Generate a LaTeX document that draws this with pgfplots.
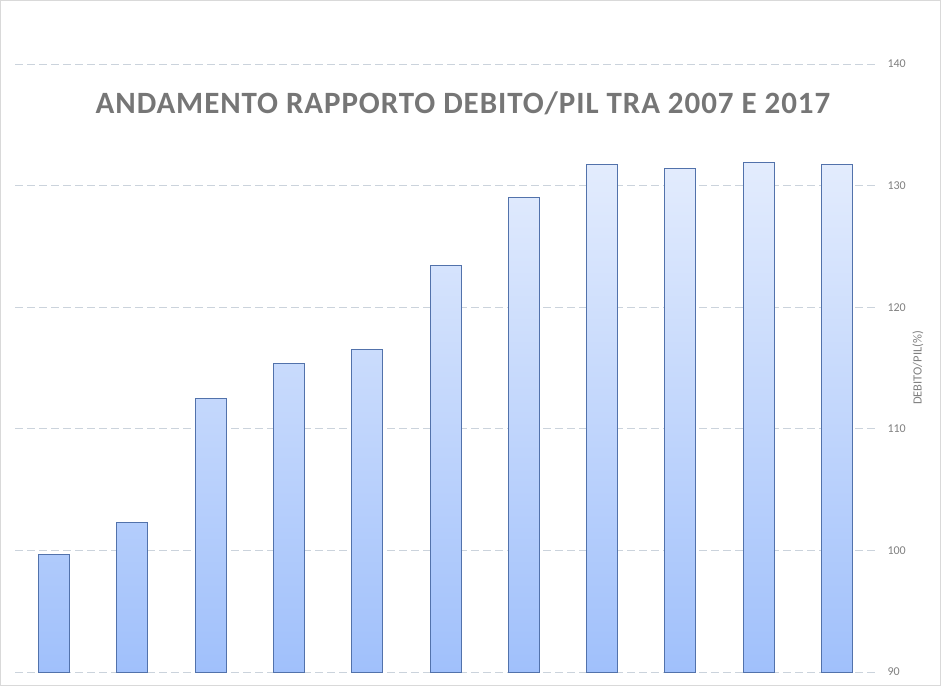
\documentclass[border=0pt]{standalone}
\usepackage{pgfplots}
\usepackage{pgfplotstable}
\pgfplotsset{compat=1.18}
\usepackage{fontspec}
\setmainfont{Carlito}

\definecolor{titlegray}{HTML}{767676}
\definecolor{tickgray}{HTML}{7F7F7F}
\definecolor{gridc}{HTML}{CBD3DC}
\definecolor{bartop}{HTML}{E3ECFD}
\definecolor{barbot}{HTML}{A0C0FB}
\definecolor{baredge}{HTML}{5272AB}
\definecolor{framec}{HTML}{D9D9D9}

% debito/PIL in percent, 2007-2017
\pgfplotstableread{
idx anno rapporto
0  2007 99.7
1  2008 102.3
2  2009 112.5
3  2010 115.4
4  2011 116.5
5  2012 123.4
6  2013 129.0
7  2014 131.7
8  2015 131.4
9  2016 131.9
10 2017 131.7
}\debitodata

\begin{document}
\begin{tikzpicture}[x=1pt,y=1pt]
\useasboundingbox (0,0) rectangle (941,686);
\draw[framec] (0.5,0.5) rectangle (940.5,685.5);

\begin{axis}[
    at={(15pt,14pt)}, anchor=south west,
    scale only axis,
    width=861pt, height=608pt,
    xmin=-0.5, xmax=10.5,
    ymin=0, ymax=50,
    axis line style={draw=none},
    xtick=\empty,
    ytick={0,10,20,30,40,50},
    yticklabels={90,100,110,120,130,140},
    yticklabel pos=right,
    major tick length=0pt,
    yticklabel style={font=\fontsize{12}{12}\selectfont, color=tickgray, xshift=8pt},
    /pgf/number format/assume math mode=true,
    ymajorgrids,
    major grid style={gridc, line width=0.8pt, dash pattern=on 8pt off 4pt},
    ylabel={DEBITO/PIL(\%)},
    every axis y label/.style={at={(rel axis cs:1,0.5)}, rotate=90, anchor=center,
        yshift=-42pt, font=\fontsize{12.5}{12.5}\selectfont, color=tickgray},
]
\addplot[ybar, bar width=31pt, draw=baredge, line width=0.9pt,
    top color=bartop, bottom color=barbot]
    table[x=idx, y expr=\thisrow{rapporto}-90] {\debitodata};
\end{axis}

\node[font=\bfseries\fontsize{31}{31}\selectfont\addfontfeatures{LetterSpace=3}, color=titlegray]
    at (463,583) {ANDAMENTO RAPPORTO DEBITO/PIL TRA 2007 E 2017};
\end{tikzpicture}
\end{document}
